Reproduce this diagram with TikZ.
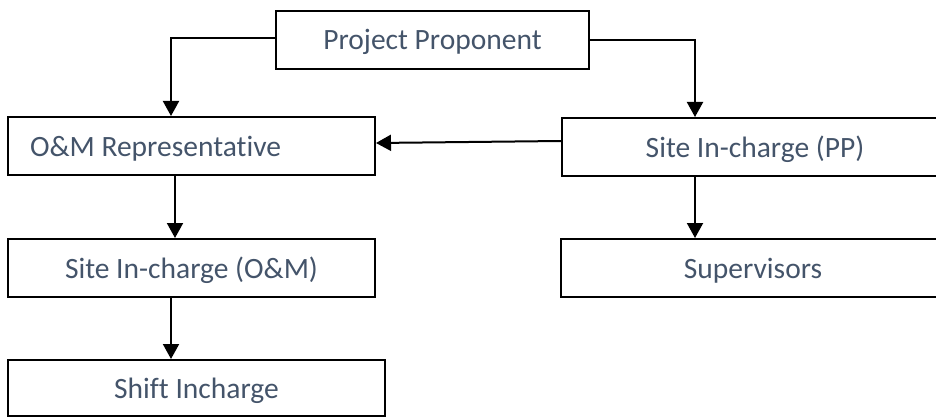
\documentclass[tikz,border=0pt]{standalone}
\usepackage{fontspec}
\setmainfont{Carlito}[Ligatures={NoCommon}]
\usetikzlibrary{arrows.meta,calc}
\definecolor{txt}{HTML}{44546A}
\begin{document}
\begin{tikzpicture}[x=1pt,y=-1pt,
  box/.style={draw=black,line width=2pt,minimum height=58pt,inner sep=0pt,text height=22pt,text depth=2pt,text=txt,font=\fontsize{29.5}{33}\selectfont,anchor=center},
  arr/.style={draw=black,line width=2pt,-{Triangle[length=15pt,width=16pt]}}]
\useasboundingbox (0,0) rectangle (936,417);
\node[box,minimum width=313pt] (pp) at (432.5,40) {Project Proponent};
\node[box,minimum width=367pt,text width=323pt,align=flush left,inner xsep=22pt] (om) at (191.5,146) {O\&M Representative};
\node[box,minimum width=367pt] (soc) at (191.5,268) {Site In-charge (O\&M)};
\node[box,minimum width=377pt,minimum height=56pt] (sh) at (196.5,388) {Shift Incharge};
\node[box,minimum width=386pt] (spp) at (755,147) {Site In-charge (PP)};
\node[box,minimum width=384pt] (sup) at (753,268) {Supervisors};
\draw[arr] ([yshift=2pt]pp.west) -| ([xshift=-20.5pt]om.north);
\draw[arr] (pp.east) -| ([xshift=-60pt]spp.north);
\draw[arr] ([yshift=6pt]spp.west) -- ([yshift=3pt]om.east);
\draw[arr] ([xshift=-60pt]spp.south) -- ([xshift=-60pt]spp.south |- sup.north);
\draw[arr] ([xshift=-16.5pt]om.south) -- ([xshift=-16.5pt]om.south |- soc.north);
\draw[arr] ([xshift=-20.5pt]soc.south) -- ([xshift=-20.5pt]soc.south |- sh.north);
\end{tikzpicture}
\end{document}
